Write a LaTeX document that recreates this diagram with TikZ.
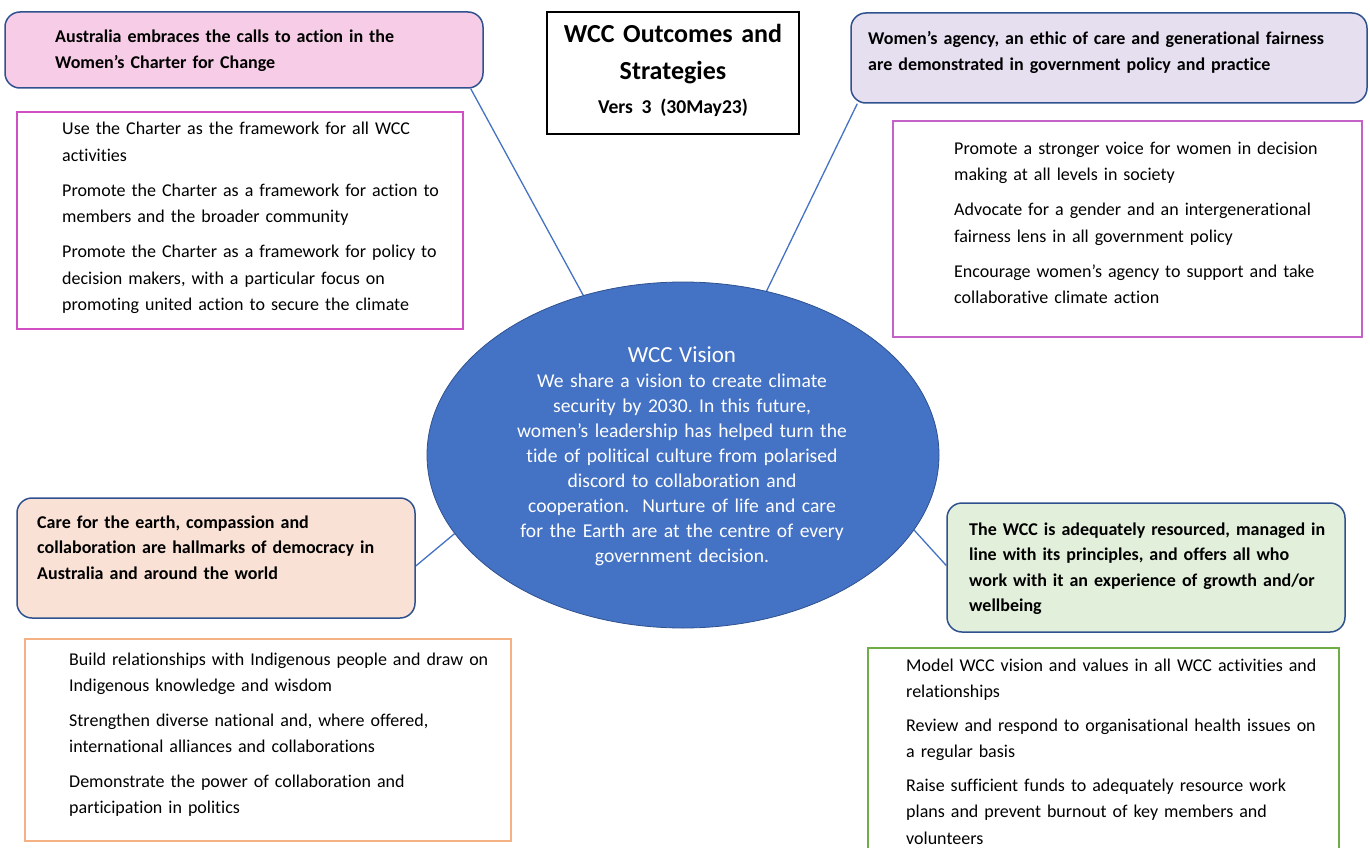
\documentclass[tikz,border=0pt]{standalone}
\usepackage{fontspec}
\setmainfont[Ligatures={TeX,NoCommon}]{Carlito}
\usetikzlibrary{shapes.geometric,backgrounds}
\definecolor{boxblue}{HTML}{2F528F}
\definecolor{linkblue}{HTML}{4472C4}
\definecolor{visionfill}{HTML}{4472C4}
\definecolor{pinkfill}{HTML}{F7CCE7}
\definecolor{lavfill}{HTML}{E6DFF0}
\definecolor{peachfill}{HTML}{F9E1D5}
\definecolor{greenfill}{HTML}{E2EFDA}
\definecolor{magline}{HTML}{D24FC3}
\definecolor{purpline}{HTML}{C462C8}
\definecolor{orangeline}{HTML}{F4B183}
\definecolor{greenline}{HTML}{70AD47}
\frenchspacing
\begin{document}
\begin{tikzpicture}[x=1pt,y=-1pt,
  headbox/.style={draw=boxblue, line width=1.5pt, rounded corners=15pt, inner sep=0, rectangle},
  listbox/.style={line width=1.5pt, inner sep=0, rectangle},
  bodytxt/.style={anchor=base west, inner sep=0, align=left, text width=600pt,
    font=\fontsize{18}{26.5}\selectfont},
  headtxt/.style={anchor=base west, inner sep=0, align=left, text width=600pt,
    font=\bfseries\fontsize{18}{25.6}\selectfont},
  link/.style={draw=linkblue, line width=1.3pt}
]
\useasboundingbox (0,0) rectangle (1370,848);
\clip (0,0) rectangle (1370,848);

% central ellipse
\node[ellipse, fill=visionfill, draw=boxblue, line width=0.8pt, inner sep=0,
  minimum width=512pt, minimum height=346pt] (vision) at (683,455) {};
\node[anchor=base, inner sep=0, align=center, text width=480pt, text=white,
  font=\fontsize{19.6}{25}\selectfont] (visiontxt) at (682,362)
  {{\fontsize{23}{25}\selectfont WCC Vision}\\
   We share a vision to create climate\\
   security by 2030. In this future,\\
   women’s leadership has helped turn the\\
   tide of political culture from polarised\\
   discord to collaboration and\\
   cooperation.\ \ Nurture of life and care\\
   for the Earth are at the centre of every\\
   government decision.};

% title
\node[draw=black, line width=1.5pt, rectangle, inner sep=0,
  minimum width=252pt, minimum height=122pt] (titlebox) at (673,73) {};
\node[anchor=base, inner sep=0, align=center, text width=250pt,
  font=\bfseries\fontsize{26}{37}\selectfont] (titletxt) at (673,43)
  {WCC Outcomes and\\Strategies\\[-3pt]{\fontsize{19.6}{22}\selectfont Vers 3 (30May23)}};

% outcome boxes
\node[headbox, fill=pinkfill, minimum width=478pt, minimum height=76pt] (b1) at (244,50) {};
\node[headtxt] (b1t) at (55,43)
  {Australia embraces the calls to action in the\\Women’s Charter for Change};

\node[headbox, fill=lavfill, minimum width=516pt, minimum height=90pt] (b2) at (1109,58) {};
\node[headtxt] (b2t) at (868,45)
  {Women’s agency, an ethic of care and generational fairness\\are demonstrated in government policy and practice};

\node[headbox, fill=peachfill, minimum width=398pt, minimum height=120pt] (b3) at (216,558) {};
\node[headtxt] (b3t) at (37,528)
  {Care for the earth, compassion and\\collaboration are hallmarks of democracy in\\Australia and around the world};

\node[headbox, fill=greenfill, minimum width=398pt, minimum height=129pt] (b4) at (1146,567.5) {};
\node[headtxt] (b4t) at (969,535)
  {The WCC is adequately resourced, managed in\\line with its principles, and offers all who\\work with it an experience of growth and/or\\wellbeing};

% strategy boxes
\node[listbox, draw=magline, minimum width=446pt, minimum height=217pt] (l1) at (240,220.5) {};
\node[bodytxt] (l1t) at (62,135)
  {Use the Charter as the framework for all WCC\\activities\\[8.5pt]
   Promote the Charter as a framework for action to\\members and the broader community\\[8.5pt]
   Promote the Charter as a framework for policy to\\decision makers, with a particular focus on\\promoting united action to secure the climate};

\node[listbox, draw=purpline, minimum width=469pt, minimum height=216pt] (l2) at (1127.5,229) {};
\node[bodytxt] (l2t) at (954,154)
  {Promote a stronger voice for women in decision\\making at all levels in society\\[8.5pt]
   Advocate for a gender and an intergenerational\\fairness lens in all government policy\\[8.5pt]
   Encourage women’s agency to support and take\\collaborative climate action};

\node[listbox, draw=orangeline, minimum width=486pt, minimum height=202pt] (l3) at (268,740) {};
\node[bodytxt] (l3t) at (69,665)
  {Build relationships with Indigenous people and draw on\\Indigenous knowledge and wisdom\\[8pt]
   Strengthen diverse national and, where offered,\\international alliances and collaborations\\[8pt]
   Demonstrate the power of collaboration and\\participation in politics};

\node[listbox, draw=greenline, minimum width=471pt, minimum height=222pt] (l4) at (1103.5,759) {};
\node[bodytxt] (l4t) at (906,671)
  {Model WCC vision and values in all WCC activities and\\relationships\\[7pt]
   Review and respond to organisational health issues on\\a regular basis\\[7pt]
   Raise sufficient funds to adequately resource work\\plans and prevent burnout of key members and\\volunteers};

% connectors
\begin{pgfonlayer}{background}
\draw[link] ([xshift=-13pt]b1.south east) -- (vision.122.9);
\draw[link] ([xshift=7pt]b2.south west) -- (vision.63.9);
\draw[link] ([yshift=-8pt]b3.east) -- (vision.199.1);
\draw[link] ([yshift=2pt]b4.west) -- (vision.342.5);
\end{pgfonlayer}
\end{tikzpicture}
\end{document}
